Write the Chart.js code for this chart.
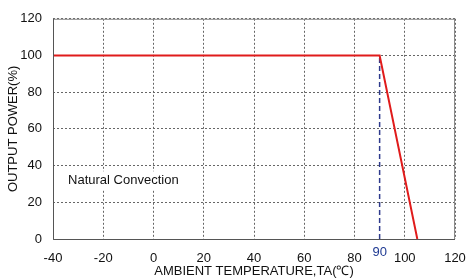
<!DOCTYPE html>
<html>
<head>
<meta charset="utf-8">
<script src="https://cdn.jsdelivr.net/npm/chart.js@4/dist/chart.umd.min.js"></script>
<style>
  html, body { margin: 0; padding: 0; background: #fff; }
  #wrap { width: 466px; height: 279px; }
</style>
</head>
<body>
<div id="wrap"><canvas id="derating"></canvas></div>
<script>
// derating curve values
const curveTemp = [-40, 90, 105];
const curvePower = [100, 100, 0];
const markerTemp = [90, 90];
const markerPower = [0, 100];
const xTicks = [-40, -20, 0, 20, 40, 60, 80, 100, 120];
const yTicks = [0, 20, 40, 60, 80, 100, 120];
const noteText = 'Natural Convection';

const FONT = "'Liberation Sans', Arial, sans-serif";

const toPoints = (xs, ys) => xs.map((x, i) => ({ x: x, y: ys[i] }));

// extra text: note box, "90" label, plot frame
const decorPlugin = {
    id: 'decor',
    afterDraw(chart) {
        const { ctx, chartArea, scales } = chart;
        ctx.save();

        // frame
        ctx.strokeStyle = '#8a8a8a';
        ctx.lineWidth = 1;
        ctx.strokeRect(chartArea.left + 0.5, chartArea.top + 0.5,
            chartArea.right - chartArea.left - 1, chartArea.bottom - chartArea.top);
        ctx.strokeStyle = '#555';
        ctx.beginPath();
        ctx.moveTo(chartArea.left + 0.5, chartArea.top);
        ctx.lineTo(chartArea.left + 0.5, chartArea.bottom + 0.5);
        ctx.lineTo(chartArea.right, chartArea.bottom + 0.5);
        ctx.stroke();

        // note
        ctx.font = '13px ' + FONT;
        const tx = scales.x.getPixelForValue(-34);
        const ty = scales.y.getPixelForValue(32);
        const w = ctx.measureText(noteText).width;
        ctx.fillStyle = '#fff';
        ctx.fillRect(tx - 4, ty - 9, w + 8, 18);
        ctx.fillStyle = '#111';
        ctx.textBaseline = 'middle';
        ctx.textAlign = 'left';
        ctx.fillText(noteText, tx, ty);

        // 90 marker label
        ctx.fillStyle = '#1f3a93';
        ctx.textAlign = 'center';
        ctx.fillText(String(markerTemp[0]), scales.x.getPixelForValue(markerTemp[0]), chartArea.bottom + 13);

        ctx.restore();
    }
};

new Chart(document.getElementById('derating'), {
    type: 'line',
    data: {
        datasets: [
            {
                data: toPoints(curveTemp, curvePower),
                borderColor: '#e01b1b',
                borderWidth: 2,
                pointRadius: 0,
                tension: 0
            },
            {
                data: toPoints(markerTemp, markerPower),
                borderColor: '#2e3a8c',
                borderWidth: 1.5,
                borderDash: [5, 3],
                pointRadius: 0
            }
        ]
    },
    options: {
        responsive: true,
        maintainAspectRatio: false,
        animation: false,
        layout: { padding: { top: 17, right: 11, left: 0, bottom: 0 } },
        plugins: {
            legend: { display: false },
            tooltip: { enabled: false }
        },
        scales: {
            x: {
                type: 'linear',
                min: -40,
                max: 120,
                afterBuildTicks: s => { s.ticks = xTicks.map(v => ({ value: v })); },
                afterFit: s => { s.height = 40; s.paddingLeft = 0; s.paddingRight = 0; },
                grid: { color: '#666', lineWidth: 1, drawTicks: false },
                border: { display: false, dash: [2, 2] },
                ticks: { color: '#111', font: { family: FONT, size: 13 }, padding: 12, maxRotation: 0 },
                title: {
                    display: true,
                    text: 'AMBIENT TEMPERATURE,TA(℃)',
                    color: '#111',
                    font: { family: FONT, size: 13 },
                    padding: { top: -4, bottom: 0 }
                }
            },
            y: {
                min: 0,
                max: 120,
                afterBuildTicks: s => { s.ticks = yTicks.map(v => ({ value: v })); },
                afterFit: s => { s.width = 53; },
                grid: { color: '#666', lineWidth: 1, drawTicks: false },
                border: { display: false, dash: [2, 2] },
                ticks: { color: '#111', font: { family: FONT, size: 13 }, padding: 11 },
                title: {
                    display: true,
                    text: 'OUTPUT POWER(%)',
                    color: '#111',
                    font: { family: FONT, size: 13 },
                    padding: { top: 6, bottom: 0 }
                }
            }
        }
    },
    plugins: [decorPlugin]
});
</script>
</body>
</html>
